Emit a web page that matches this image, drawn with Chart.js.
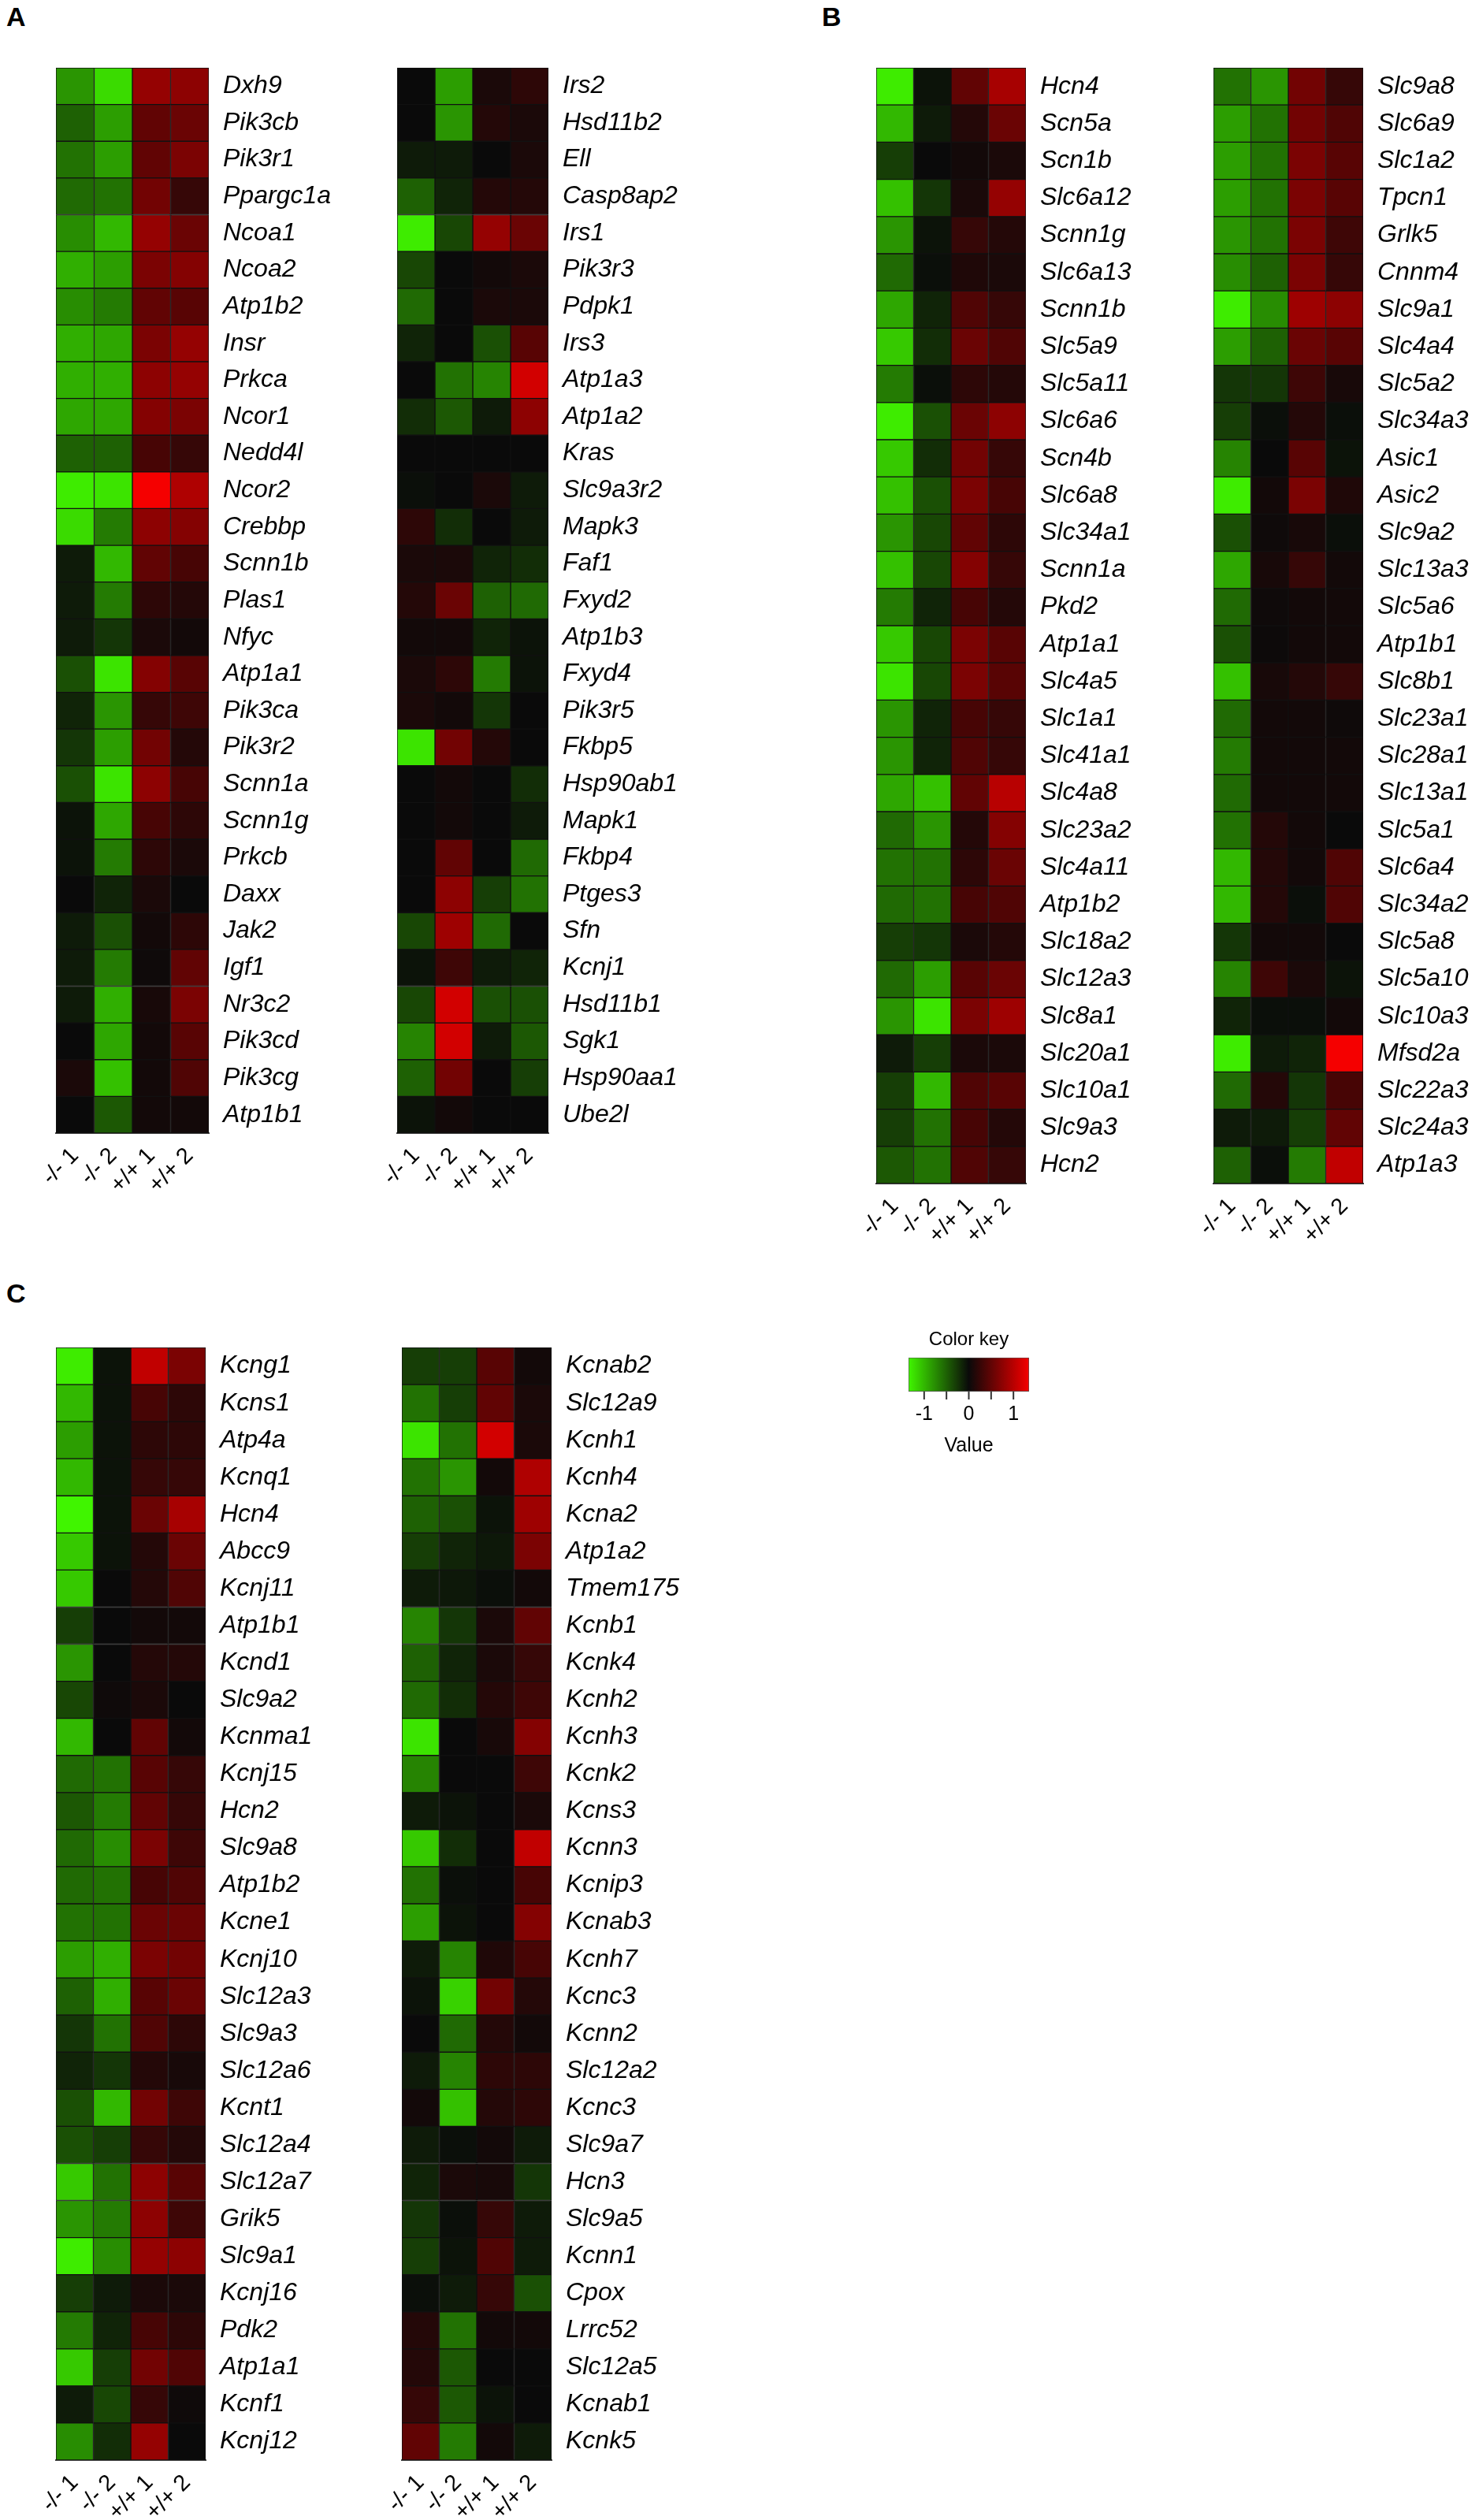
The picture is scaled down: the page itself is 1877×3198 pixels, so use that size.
<!DOCTYPE html>
<html><head><meta charset="utf-8">
<script src="https://cdn.jsdelivr.net/npm/chart.js@4.4.1/dist/chart.umd.min.js"></script>
<style>
body{margin:0;background:#fff;width:1877px;height:3198px;position:relative;overflow:hidden;font-family:"Liberation Sans",Arial,sans-serif}
canvas{position:absolute}
.lt{position:absolute;font-weight:bold;font-size:34px}
</style></head><body>
<div class="lt" style="left:8px;top:2px">A</div>
<div class="lt" style="left:1043px;top:2px">B</div>
<div class="lt" style="left:8px;top:1622px">C</div>
<script>
const columns = ['-/- 1','-/- 2','+/+ 1','+/+ 2'];
const keyTicks = [-1,-0.5,0,0.5,1];

const aLeftGenes = ['Dxh9','Pik3cb','Pik3r1','Ppargc1a','Ncoa1','Ncoa2','Atp1b2','Insr','Prkca','Ncor1','Nedd4l','Ncor2','Crebbp','Scnn1b','Plas1','Nfyc','Atp1a1','Pik3ca','Pik3r2','Scnn1a','Scnn1g','Prkcb','Daxx','Jak2','Igf1','Nr3c2','Pik3cd','Pik3cg','Atp1b1'];
const aLeftVals = [[-0.8,-1.2,0.8,0.75],[-0.5,-0.85,0.5,0.55],[-0.6,-0.85,0.5,0.65],[-0.55,-0.6,0.6,0.25],[-0.75,-1.0,0.8,0.55],[-0.95,-0.85,0.65,0.7],[-0.75,-0.65,0.5,0.45],[-0.95,-0.9,0.65,0.8],[-0.95,-0.95,0.75,0.8],[-0.9,-0.9,0.7,0.65],[-0.5,-0.5,0.35,0.25],[-1.3,-1.25,1.35,0.95],[-1.2,-0.65,0.75,0.7],[-0.1,-1.0,0.5,0.35],[-0.1,-0.65,0.2,0.15],[-0.1,-0.25,0.1,0.05],[-0.4,-1.25,0.7,0.45],[-0.15,-0.8,0.25,0.3],[-0.25,-0.85,0.6,0.15],[-0.4,-1.25,0.75,0.35],[-0.05,-0.9,0.35,0.2],[-0.05,-0.65,0.2,0.1],[0,-0.15,0.1,0],[-0.1,-0.4,0.05,0.2],[-0.1,-0.65,0.03,0.5],[-0.1,-0.95,0.08,0.65],[0,-0.9,0.05,0.45],[0.1,-1.05,0.05,0.4],[0,-0.45,0.05,0.05]];

const aRightGenes = ['Irs2','Hsd11b2','Ell','Casp8ap2','Irs1','Pik3r3','Pdpk1','Irs3','Atp1a3','Atp1a2','Kras','Slc9a3r2','Mapk3','Faf1','Fxyd2','Atp1b3','Fxyd4','Pik3r5','Fkbp5','Hsp90ab1','Mapk1','Fkbp4','Ptges3','Sfn','Kcnj1','Hsd11b1','Sgk1','Hsp90aa1','Ube2l'];
const aRightVals = [[0,-0.85,0.1,0.2],[0,-0.8,0.15,0.1],[-0.1,-0.1,0,0.1],[-0.5,-0.15,0.15,0.15],[-1.3,-0.35,0.8,0.55],[-0.35,0,0.05,0.1],[-0.55,0,0.1,0.1],[-0.15,0,-0.4,0.45],[0,-0.6,-0.7,1.15],[-0.2,-0.45,-0.1,0.75],[0,0,0,0],[-0.03,0,0.1,-0.1],[0.2,-0.2,0,-0.1],[0.1,0.1,-0.15,-0.2],[0.15,0.55,-0.5,-0.55],[0.05,0.05,-0.15,-0.05],[0.1,0.2,-0.65,-0.05],[0.1,0.05,-0.25,0],[-1.25,0.6,0.15,0],[0,0.05,0,-0.2],[0,0.05,0,-0.1],[0,0.5,0,-0.55],[0,0.75,-0.3,-0.6],[-0.35,0.85,-0.55,0],[-0.05,0.3,-0.1,-0.15],[-0.35,1.15,-0.4,-0.4],[-0.7,1.15,-0.1,-0.45],[-0.5,0.6,0,-0.3],[-0.05,0.05,0,0]];

const bLeftGenes = ['Hcn4','Scn5a','Scn1b','Slc6a12','Scnn1g','Slc6a13','Scnn1b','Slc5a9','Slc5a11','Slc6a6','Scn4b','Slc6a8','Slc34a1','Scnn1a','Pkd2','Atp1a1','Slc4a5','Slc1a1','Slc41a1','Slc4a8','Slc23a2','Slc4a11','Atp1b2','Slc18a2','Slc12a3','Slc8a1','Slc20a1','Slc10a1','Slc9a3','Hcn2'];
const bLeftVals = [[-1.3,-0.05,0.5,0.9],[-1.0,-0.1,0.15,0.55],[-0.3,0,0.05,0.1],[-1.05,-0.25,0.1,0.8],[-0.8,-0.05,0.25,0.15],[-0.55,-0.03,0.12,0.1],[-0.9,-0.15,0.4,0.25],[-1.1,-0.2,0.55,0.4],[-0.65,-0.03,0.2,0.15],[-1.3,-0.4,0.55,0.75],[-1.1,-0.2,0.6,0.25],[-1.05,-0.4,0.65,0.35],[-0.8,-0.35,0.5,0.2],[-1.05,-0.35,0.7,0.25],[-0.65,-0.15,0.35,0.15],[-1.1,-0.35,0.65,0.45],[-1.25,-0.35,0.65,0.45],[-0.8,-0.15,0.35,0.25],[-0.8,-0.15,0.4,0.25],[-0.9,-1.05,0.5,1.0],[-0.55,-0.8,0.15,0.7],[-0.6,-0.6,0.2,0.55],[-0.55,-0.6,0.35,0.4],[-0.3,-0.25,0.1,0.15],[-0.55,-0.85,0.45,0.55],[-0.8,-1.25,0.65,0.85],[-0.1,-0.3,0.1,0.1],[-0.3,-1.0,0.4,0.45],[-0.3,-0.6,0.35,0.15],[-0.45,-0.6,0.4,0.25]];

const bRightGenes = ['Slc9a8','Slc6a9','Slc1a2','Tpcn1','Grlk5','Cnnm4','Slc9a1','Slc4a4','Slc5a2','Slc34a3','Asic1','Asic2','Slc9a2','Slc13a3','Slc5a6','Atp1b1','Slc8b1','Slc23a1','Slc28a1','Slc13a1','Slc5a1','Slc6a4','Slc34a2','Slc5a8','Slc5a10','Slc10a3','Mfsd2a','Slc22a3','Slc24a3','Atp1a3'];
const bRightVals = [[-0.6,-0.8,0.6,0.25],[-0.85,-0.6,0.6,0.4],[-0.85,-0.6,0.65,0.45],[-0.85,-0.6,0.65,0.45],[-0.8,-0.6,0.65,0.3],[-0.75,-0.5,0.65,0.25],[-1.3,-0.75,0.85,0.75],[-0.85,-0.5,0.55,0.45],[-0.25,-0.25,0.3,0.08],[-0.3,-0.03,0.15,-0.03],[-0.7,0,0.45,-0.05],[-1.3,0.05,0.65,0.12],[-0.4,0.03,0.08,-0.03],[-0.9,0.08,0.25,0.05],[-0.55,0.03,0.05,0.05],[-0.4,0.02,0.05,0.05],[-1.05,0.08,0.15,0.25],[-0.55,0.05,0.05,0.03],[-0.65,0.05,0.05,0.05],[-0.55,0.05,0.05,0.05],[-0.6,0.15,0.05,0],[-1.0,0.15,0.05,0.4],[-1.0,0.15,-0.03,0.4],[-0.25,0.05,0.05,0],[-0.7,0.3,0.1,-0.05],[-0.15,-0.03,-0.03,0.05],[-1.3,-0.1,-0.15,1.35],[-0.55,0.15,-0.25,0.35],[-0.1,-0.1,-0.3,0.5],[-0.5,-0.03,-0.65,1.05]];

const cLeftGenes = ['Kcng1','Kcns1','Atp4a','Kcnq1','Hcn4','Abcc9','Kcnj11','Atp1b1','Kcnd1','Slc9a2','Kcnma1','Kcnj15','Hcn2','Slc9a8','Atp1b2','Kcne1','Kcnj10','Slc12a3','Slc9a3','Slc12a6','Kcnt1','Slc12a4','Slc12a7','Grik5','Slc9a1','Kcnj16','Pdk2','Atp1a1','Kcnf1','Kcnj12'];
const cLeftVals = [[-1.3,-0.05,1.05,0.65],[-1.0,-0.05,0.35,0.2],[-0.85,-0.05,0.2,0.2],[-1.0,-0.05,0.25,0.25],[-1.35,-0.05,0.55,0.9],[-1.1,-0.05,0.15,0.55],[-1.1,0,0.15,0.4],[-0.3,0,0.05,0.05],[-0.8,0,0.15,0.15],[-0.35,0.03,0.1,0],[-1.0,0,0.5,0.05],[-0.55,-0.6,0.45,0.25],[-0.45,-0.65,0.5,0.25],[-0.55,-0.75,0.65,0.3],[-0.55,-0.6,0.35,0.4],[-0.6,-0.6,0.55,0.55],[-0.85,-0.95,0.65,0.6],[-0.5,-0.95,0.45,0.55],[-0.25,-0.6,0.4,0.2],[-0.15,-0.25,0.15,0.08],[-0.4,-1.0,0.6,0.3],[-0.4,-0.3,0.25,0.15],[-1.1,-0.6,0.75,0.45],[-0.8,-0.65,0.75,0.3],[-1.3,-0.75,0.8,0.75],[-0.3,-0.1,0.1,0.1],[-0.65,-0.15,0.35,0.2],[-1.1,-0.3,0.6,0.4],[-0.1,-0.35,0.25,0.03],[-0.75,-0.2,0.8,0]];

const cRightGenes = ['Kcnab2','Slc12a9','Kcnh1','Kcnh4','Kcna2','Atp1a2','Tmem175','Kcnb1','Kcnk4','Kcnh2','Kcnh3','Kcnk2','Kcns3','Kcnn3','Kcnip3','Kcnab3','Kcnh7','Kcnc3','Kcnn2','Slc12a2','Kcnc3','Slc9a7','Hcn3','Slc9a5','Kcnn1','Cpox','Lrrc52','Slc12a5','Kcnab1','Kcnk5'];
const cRightVals = [[-0.3,-0.3,0.45,0.05],[-0.6,-0.3,0.5,0.1],[-1.25,-0.6,1.15,0.1],[-0.6,-0.8,0.05,0.95],[-0.5,-0.4,-0.05,0.85],[-0.3,-0.15,-0.08,0.65],[-0.1,-0.08,-0.03,0.05],[-0.7,-0.25,0.1,0.5],[-0.5,-0.15,0.1,0.25],[-0.55,-0.2,0.15,0.3],[-1.25,0,0.08,0.7],[-0.7,0,0,0.3],[-0.1,-0.05,0,0.1],[-1.1,-0.2,0,1.05],[-0.6,-0.03,0,0.35],[-0.85,-0.05,0,0.7],[-0.1,-0.7,0.12,0.35],[-0.05,-1.15,0.6,0.15],[0,-0.55,0.15,0.05],[-0.1,-0.7,0.2,0.2],[0.05,-1.05,0.15,0.2],[-0.1,-0.03,0.05,-0.1],[-0.15,0.1,0.08,-0.25],[-0.25,-0.03,0.25,-0.1],[-0.3,-0.05,0.4,-0.1],[-0.03,-0.1,0.25,-0.4],[0.15,-0.6,0.05,0.05],[0.15,-0.45,0,0],[0.25,-0.45,-0.05,0],[0.5,-0.65,0.05,-0.1]];

function col(v){
  const t=Math.min(1,Math.abs(v)/1.35);
  const b=10*(1-t);
  if(v<0) return `rgb(${Math.round(b+t*0.25*255)},${Math.round(b+t*245)},${Math.round(b*(1-t))})`;
  return `rgb(${Math.round(b+t*245)},${Math.round(b*(1-t))},${Math.round(b*(1-t))})`;
}

const PADL=70, PADT=10, YW=300, XH=120;
function heat(genes, vals, x, y, w, h){
  const c=document.createElement('canvas');
  c.width=PADL+w+YW; c.height=PADT+h+XH;
  c.style.left=(x-PADL)+'px'; c.style.top=(y-PADT)+'px';
  c.style.width=c.width+'px'; c.style.height=c.height+'px';
  document.body.appendChild(c);
  new Chart(c,{type:'bar',
    data:{labels:genes,datasets:columns.map((n,i)=>({label:n,data:genes.map(()=>1),
      backgroundColor:vals.map(r=>col(r[i])),borderColor:'#111',borderWidth:1,borderSkipped:false,
      barPercentage:1,categoryPercentage:1}))},
    options:{indexAxis:'y',responsive:false,animation:false,devicePixelRatio:1,
      layout:{padding:{left:PADL,top:PADT,right:0,bottom:0}},
      plugins:{legend:{display:false},tooltip:{enabled:false}},
      scales:{
        x:{type:'linear',stacked:true,min:0,max:4,grid:{display:false},border:{display:true,color:'#444',width:2},
          afterBuildTicks:s=>{s.ticks=[0.5,1.5,2.5,3.5].map(v=>({value:v}));},
          afterFit:s=>{s.height=XH;s.paddingLeft=0;s.paddingRight=0;},
          ticks:{autoSkip:false,minRotation:45,maxRotation:45,padding:4,color:'#000',
            font:{family:'Liberation Sans',size:29},callback:v=>columns[Math.round(v-0.5)]}},
        y:{position:'right',stacked:true,grid:{display:false},border:{display:false},
          afterFit:s=>{s.width=YW;s.paddingTop=0;s.paddingBottom=0;},
          ticks:{autoSkip:false,padding:10,color:'#000',font:{family:'Liberation Sans',size:32,style:'italic'}}}
      }}});
}
heat(aLeftGenes,aLeftVals,71,86,194,1352);
heat(aRightGenes,aRightVals,504,86,192,1352);
heat(bLeftGenes,bLeftVals,1112,86,190,1416);
heat(bRightGenes,bRightVals,1540,86,190,1416);
heat(cLeftGenes,cLeftVals,71,1710,190,1412);
heat(cRightGenes,cRightVals,510,1710,190,1412);

// color key
(function(){
  const c=document.createElement('canvas');
  const x0=1153,y0=1724;
  c.width=260;c.height=180;
  c.style.left=(x0-50)+'px';c.style.top=(y0-54)+'px';
  c.style.width='260px';c.style.height='180px';
  document.body.appendChild(c);
  new Chart(c,{type:'bar',
    data:{labels:['key'],datasets:[{data:[[-1.35,1.35]],borderColor:'#555',borderWidth:1,borderSkipped:false,
      barPercentage:1,categoryPercentage:1,
      backgroundColor:(ctx)=>{const ca=ctx.chart.chartArea;if(!ca)return '#000';
        const g=ctx.chart.ctx.createLinearGradient(ca.left,0,ca.right,0);
        for(let i=0;i<=10;i++){g.addColorStop(i/10,col(-1.35+2.7*i/10));}return g;}}]},
    options:{indexAxis:'y',responsive:false,animation:false,devicePixelRatio:1,
      layout:{padding:{left:50,right:57,top:0,bottom:0}},
      plugins:{legend:{display:false},tooltip:{enabled:false},
        title:{display:true,text:'Color key',color:'#000',font:{family:'Liberation Sans',size:24,weight:'normal'},padding:{top:16,bottom:8}}},
      scales:{
        x:{type:'linear',min:-1.35,max:1.35,grid:{display:false,drawOnChartArea:false},
          border:{display:false},
          afterBuildTicks:s=>{s.ticks=keyTicks.map(v=>({value:v}));},
          afterFit:s=>{s.height=84;s.paddingLeft=0;s.paddingRight=0;},
          ticks:{autoSkip:false,maxRotation:0,color:'#000',padding:6,font:{family:'Liberation Sans',size:25},
            callback:v=>(v===-1||v===0||v===1)?String(v):''},
          title:{display:true,text:'Value',color:'#000',font:{family:'Liberation Sans',size:25},padding:0}},
        y:{display:false}
      }},
    plugins:[{id:'tk',afterDraw(ch){const s=ch.scales.x,cx=ch.ctx;cx.save();cx.strokeStyle='#333';cx.lineWidth=2;
      keyTicks.forEach(v=>{const px=s.getPixelForValue(v);cx.beginPath();cx.moveTo(px,ch.chartArea.bottom);cx.lineTo(px,ch.chartArea.bottom+10);cx.stroke();});cx.restore();}}]
  });
})();
</script>
</body></html>
